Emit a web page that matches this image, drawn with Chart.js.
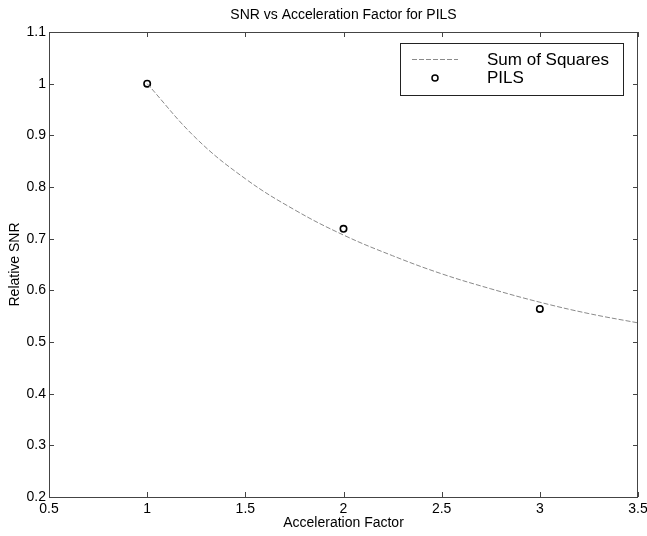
<!DOCTYPE html>
<html>
<head>
<meta charset="utf-8">
<script src="https://cdn.jsdelivr.net/npm/chart.js@4/dist/chart.umd.min.js"></script>
<style>
  html, body { margin: 0; padding: 0; background: #fff; }
  #wrap { width: 647px; height: 536px; position: relative; }
</style>
</head>
<body>
<div id="wrap"><canvas id="snrChart"></canvas></div>
<script>
// Data
const curveX = [1, 1.25, 1.5, 1.75, 2, 2.25, 2.5, 2.75, 3, 3.25, 3.5];
const curveY = [1.0, 0.894, 0.816, 0.756, 0.707, 0.667, 0.632, 0.603, 0.577, 0.555, 0.537];
const pilsX = [1, 2, 3];
const pilsY = [1.0, 0.719, 0.564];
const xTicks = [0.5, 1, 1.5, 2, 2.5, 3, 3.5];
const yTicks = [0.2, 0.3, 0.4, 0.5, 0.6, 0.7, 0.8, 0.9, 1, 1.1];

const FONT = "'Liberation Sans', Arial, Helvetica, sans-serif";
const fmt = v => String(+Number(v).toFixed(2));

// box, inward ticks, titles and legend in MATLAB style
const matlabFrame = {
  id: 'matlabFrame',
  afterDraw(chart) {
    const { ctx, chartArea: a, scales: { x, y } } = chart;
    ctx.save();
    ctx.strokeStyle = '#444';
    ctx.lineWidth = 1;
    ctx.strokeRect(a.left + 0.5, a.top + 0.5, a.right - a.left - 1, a.bottom - a.top);

    ctx.beginPath();
    xTicks.forEach(v => {
      const px = Math.round(x.getPixelForValue(v)) + 0.5;
      ctx.moveTo(px, a.bottom); ctx.lineTo(px, a.bottom - 5);
      ctx.moveTo(px, a.top); ctx.lineTo(px, a.top + 5);
    });
    yTicks.forEach(v => {
      const py = Math.round(y.getPixelForValue(v)) + 0.5;
      ctx.moveTo(a.left, py); ctx.lineTo(a.left + 5, py);
      ctx.moveTo(a.right, py); ctx.lineTo(a.right - 5, py);
    });
    ctx.stroke();

    // titles
    ctx.fillStyle = '#000';
    ctx.textAlign = 'center';
    ctx.textBaseline = 'middle';
    ctx.font = '14px ' + FONT;
    const cx = (a.left + a.right) / 2;
    ctx.fillText('SNR vs Acceleration Factor for PILS', cx, 15);
    ctx.fillText('Acceleration Factor', cx, 523);
    ctx.save();
    ctx.translate(15, (a.top + a.bottom) / 2);
    ctx.rotate(-Math.PI / 2);
    ctx.fillText('Relative SNR', 0, 0);
    ctx.restore();

    // legend
    const lx = 400, ly = 43, lw = 223, lh = 52;
    ctx.fillStyle = '#fff';
    ctx.fillRect(lx, ly, lw, lh);
    ctx.strokeStyle = '#222';
    ctx.strokeRect(lx + 0.5, ly + 0.5, lw, lh);
    const ds = chart.data.datasets;
    ctx.strokeStyle = ds[0].borderColor;
    ctx.setLineDash(ds[0].borderDash);
    ctx.beginPath();
    ctx.moveTo(412, 59.5); ctx.lineTo(458, 59.5);
    ctx.stroke();
    ctx.setLineDash([]);
    ctx.strokeStyle = '#000';
    ctx.lineWidth = 1.5;
    ctx.beginPath();
    ctx.arc(435, 78, 3, 0, Math.PI * 2);
    ctx.stroke();
    ctx.fillStyle = '#000';
    ctx.textAlign = 'left';
    ctx.font = '17px ' + FONT;
    ctx.fillText(ds[0].label, 487, 60);
    ctx.fillText(ds[1].label, 487, 78);
    ctx.restore();
  }
};

new Chart(document.getElementById('snrChart'), {
  type: 'scatter',
  data: {
    datasets: [
      {
        label: 'Sum of Squares',
        data: curveX.map((v, i) => ({ x: v, y: curveY[i] })),
        showLine: true,
        borderColor: '#8a8a8a',
        borderWidth: 1,
        borderDash: [5, 2],
        pointRadius: 0,
        tension: 0.4,
        fill: false
      },
      {
        label: 'PILS',
        data: pilsX.map((v, i) => ({ x: v, y: pilsY[i] })),
        showLine: false,
        pointRadius: 3.2,
        pointBorderWidth: 1.6,
        pointBorderColor: '#000',
        pointBackgroundColor: 'rgba(0,0,0,0)'
      }
    ]
  },
  options: {
    responsive: true,
    maintainAspectRatio: false,
    animation: false,
    layout: { padding: { top: 32, right: 9, left: 0, bottom: 0 } },
    plugins: { legend: { display: false }, tooltip: { enabled: false } },
    scales: {
      x: {
        type: 'linear', min: 0.5, max: 3.5,
        afterFit: s => { s.height = 39; s.paddingLeft = 0; s.paddingRight = 0; },
        afterBuildTicks: s => { s.ticks = xTicks.map(v => ({ value: v })); },
        grid: { display: false, drawTicks: false, tickLength: 0 },
        border: { display: false },
        ticks: { color: '#000', padding: 4, maxRotation: 0, font: { family: FONT, size: 14 }, callback: fmt }
      },
      y: {
        type: 'linear', min: 0.2, max: 1.1,
        afterFit: s => { s.width = 49; s.paddingTop = 0; s.paddingBottom = 0; },
        afterBuildTicks: s => { s.ticks = yTicks.map(v => ({ value: v })); },
        grid: { display: false, drawTicks: false, tickLength: 0 },
        border: { display: false },
        ticks: { color: '#000', padding: 3, font: { family: FONT, size: 14 }, callback: fmt }
      }
    }
  },
  plugins: [matlabFrame]
});
</script>
</body>
</html>
